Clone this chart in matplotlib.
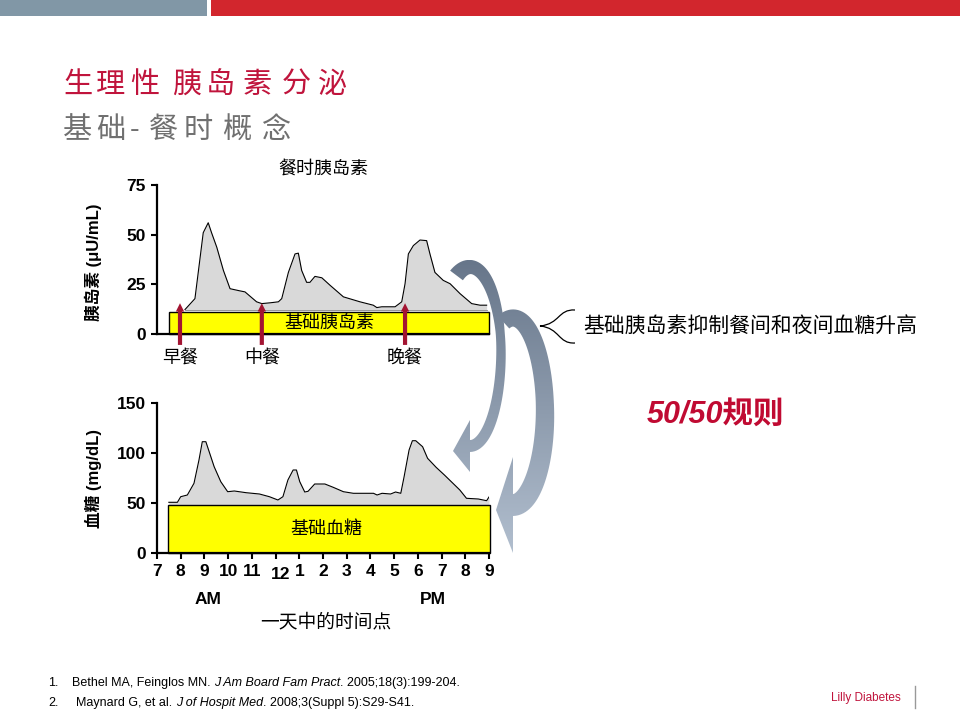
import numpy as np
import matplotlib
matplotlib.use("Agg")
from matplotlib import pyplot as plt
from matplotlib.patches import Rectangle, PathPatch, Polygon
from matplotlib.path import Path
from matplotlib.colors import LinearSegmentedColormap

plt.rcParams['font.family'] = ['Liberation Sans', 'Noto Sans CJK SC']

# --- data ---
insulin_hours = [8.18, 8.6, 8.95, 9.16, 9.3, 9.52, 9.8, 10.08, 10.5, 10.71, 11.2, 11.42,
                 11.77, 12.12, 12.26, 12.54, 12.82, 12.96, 13.1, 13.31, 13.45, 13.66, 13.95,
                 14.3, 14.86, 15.56, 16.12, 16.27, 16.48, 17.04, 17.32, 17.46, 17.6, 17.81,
                 18.09, 18.37, 18.51, 18.72, 19.07, 19.36, 19.78, 20.27, 20.62, 20.9]
insulin_values = [12.3, 17.8, 51, 56, 51, 43.7, 32, 22.8, 21.7, 21.2, 16.2, 15.3,
                  15.7, 16.2, 17.8, 31, 40.3, 40.7, 32, 26, 26, 29, 28.3,
                  24.5, 18.7, 16.2, 14.5, 13.3, 13.7, 13.7, 16.2, 25.3, 40.3, 44.5,
                  47.3, 47, 40.3, 31, 27, 25.3, 20.3, 15.3, 14.5, 14.5]
basal_insulin = 11
insulin_fill_base = 12

glucose_hours = [7.5, 7.86, 8.0, 8.28, 8.56, 8.77, 8.91, 9.06, 9.2, 9.41, 9.69, 9.98, 10.26,
                 10.76, 11.32, 11.74, 12.1, 12.31, 12.52, 12.74, 12.88, 13.02, 13.23, 13.37,
                 13.65, 14.08, 14.43, 14.86, 15.28, 16.13, 16.28, 16.49, 16.85, 17.06, 17.28,
                 17.42, 17.63, 17.77, 17.91, 18.2, 18.41, 18.77, 19.12, 19.48, 19.77, 20.05,
                 20.55, 20.9, 21.0]
glucose_values = [50.7, 50.7, 56.3, 58, 69.7, 93, 111.3, 111.3, 101.3, 86.3, 71.3, 61.3, 62,
                  60.3, 59, 56.3, 53, 56.3, 73, 83, 83, 71.3, 61, 61.7,
                  69, 69, 65.7, 61.3, 59.7, 59.7, 58, 59.7, 59, 61, 59.7,
                  76.3, 103, 112.3, 112.3, 106.3, 94.7, 85.7, 78, 69.7, 63, 54.7,
                  54, 52.3, 56]
basal_glucose = 48

meal_hours = [7.97, 11.42, 17.46]
meal_labels = ['早餐', '中餐', '晚餐']

insulin_ticks = [0, 25, 50, 75]
glucose_ticks = [0, 50, 100, 150]
hour_ticks = list(range(7, 22))
hour_labels = ['7', '8', '9', '10', '11', '12', '1', '2', '3', '4', '5', '6', '7', '8', '9']

W, H = 960, 720
fig = plt.figure(figsize=(9.6, 7.2), dpi=100)


def box(x0, y0, x1, y1):
    return [x0 / W, 1 - y1 / H, (x1 - x0) / W, (y1 - y0) / H]


ax1 = fig.add_axes(box(157, 185, 489, 334))
ax2 = fig.add_axes(box(157, 403, 489, 553))

for ax in (ax1, ax2):
    ax.spines[['top', 'right']].set_visible(False)
    ax.spines[['left', 'bottom']].set_linewidth(1.6)
    ax.set_xlim(7, 21)
    ax.patch.set_visible(False)
    ax.tick_params(width=1.5, length=4, labelsize=12.5, pad=4)

# top chart: insulin
ax1.set_ylim(0, 75)
ax1.set_yticks(insulin_ticks)
ax1.set_xticks([])
ax1.add_patch(Rectangle((7.5, 0), 21 - 7.5, basal_insulin, facecolor='#FFFF00',
                        edgecolor='black', lw=1, clip_on=False, zorder=2))
ax1.fill_between(insulin_hours, insulin_fill_base, insulin_values, color='#D9D9D9', lw=0)
ax1.plot(insulin_hours, insulin_values, color='black', lw=0.8)
ax1.plot([insulin_hours[0], insulin_hours[-1]], [insulin_fill_base] * 2, color='#888888', lw=0.6)
ax1.text(14.25, basal_insulin / 2, '基础胰岛素', ha='center', va='center', fontsize=13, zorder=3)
for h, lab in zip(meal_hours, meal_labels):
    ax1.annotate('', xy=(h, 15.5), xytext=(h, -5.5), annotation_clip=False,
                 arrowprops=dict(arrowstyle='simple,head_width=0.6,head_length=0.6,tail_width=0.3',
                                 color='#A31432', lw=0, shrinkA=0, shrinkB=0), zorder=4)
    ax1.text(h, -12, lab, ha='center', va='center', fontsize=13, clip_on=False)
ax1.set_title('餐时胰岛素', fontsize=13, pad=8)

# bottom chart: glucose
ax2.set_ylim(0, 150)
ax2.set_yticks(glucose_ticks)
ax2.set_xticks(hour_ticks)
shown = [l if l != '12' else '' for l in hour_labels]
ax2.set_xticklabels(shown)
ax2.annotate('12', xy=(12, 0), xycoords=('data', 'axes fraction'), xytext=(3.5, -15.5),
             textcoords='offset points', ha='center', va='center', fontsize=12.5, fontweight='bold')
ax2.add_patch(Rectangle((7.48, 0), 21.05 - 7.48, basal_glucose, facecolor='#FFFF00',
                        edgecolor='black', lw=1, clip_on=False, zorder=2))
ax2.fill_between(glucose_hours, basal_glucose, glucose_values, color='#D9D9D9', lw=0)
ax2.plot(glucose_hours, glucose_values, color='black', lw=0.8)
ax2.text(14.15, basal_glucose / 2, '基础血糖', ha='center', va='center', fontsize=13, zorder=3)

for ax in (ax1, ax2):
    plt.setp(ax.get_yticklabels(), fontweight='bold')
    plt.setp(ax.get_xticklabels(), fontweight='bold')

# --- overlay in pixel coordinates for slide decoration ---
ov = fig.add_axes([0, 0, 1, 1], zorder=5)
ov.set_xlim(0, W)
ov.set_ylim(H, 0)
ov.axis('off')

ov.add_patch(Rectangle((0, 0), 207, 16, color='#8197A6', lw=0))
ov.add_patch(Rectangle((211, 0), W - 211, 16, color='#D2262D', lw=0))

title = '生理性胰岛素分泌'
title_x = [77.5, 110.8, 145, 186.7, 220.8, 256.7, 295.8, 332.5]
for ch, x in zip(title, title_x):
    ov.text(x, 85, ch, ha='center', va='center', fontsize=21, color='#C0143C')
subtitle = '基础-餐时概念'
sub_x = [77.5, 110.8, 135, 163, 198, 236.7, 276.7]
for ch, x in zip(subtitle, sub_x):
    ov.text(x, 130, ch, ha='center', va='center', fontsize=21, color='#707070')

ov.text(93, 262, '胰岛素 (μU/mL)', rotation=90, ha='center', va='center',
        fontsize=12, fontweight='bold')
ov.text(93, 478, '血糖 (mg/dL)', rotation=90, ha='center', va='center',
        fontsize=12, fontweight='bold')
ov.text(208, 600, 'AM', ha='center', va='center', fontsize=12.5, fontweight='bold')
ov.text(433, 600, 'PM', ha='center', va='center', fontsize=12.5, fontweight='bold')
ov.text(326, 623, '一天中的时间点', ha='center', va='center', fontsize=13.5)


def crescent(cx, cy, a, b_top, b_bot, t0, t1, widths, head_hw, head_len, n=80):
    ts = np.linspace(t0, t1, n)
    b = np.where(ts < np.pi / 2, b_top, b_bot)
    x = cx + a * np.sin(ts)
    y = cy - b * np.cos(ts)
    dx = a * np.cos(ts)
    dy = b * np.sin(ts)
    nrm = np.hypot(dx, dy)
    tx, ty = dx / nrm, dy / nrm
    nx_, ny_ = ty, -tx
    w = np.interp(np.linspace(0, 1, n), [0, 0.5, 1], widths) / 2
    outer = np.column_stack([x + nx_ * w, y + ny_ * w])
    inner = np.column_stack([x - nx_ * w, y - ny_ * w])
    ex, ey = x[-1], y[-1]
    head = [(ex + nx_[-1] * head_hw, ey + ny_[-1] * head_hw),
            (ex + tx[-1] * head_len, ey + ty[-1] * head_len + 5),
            (ex - nx_[-1] * head_hw, ey - ny_[-1] * head_hw)]
    return np.vstack([outer, head, inner[::-1]])


cmap = LinearSegmentedColormap.from_list('arr', ['#67768A', '#B3C0D0'])
grad = np.linspace(0, 1, 256).reshape(-1, 1)
arrows = [crescent(470, 352, 31, 85, 94, -0.45, np.pi, [16, 9, 12], 26, 17),
          crescent(513, 413, 32, 95, 92, -0.3, np.pi, [17, 18, 22], 48, 17)]
for pts in arrows:
    poly = Polygon(pts, closed=True, facecolor='none', edgecolor='none')
    ov.add_patch(poly)
    im = ov.imshow(grad, extent=(430, 570, 560, 260), cmap=cmap, aspect='auto',
                   origin='upper', interpolation='bilinear')
    im.set_clip_path(poly)
ov.set_xlim(0, W)
ov.set_ylim(H, 0)

brace = Path([(575, 310), (558, 309), (560, 324), (540, 326),
              (560, 328), (558, 344), (575, 343)],
             [Path.MOVETO, Path.CURVE4, Path.CURVE4, Path.CURVE4,
              Path.CURVE4, Path.CURVE4, Path.CURVE4])
ov.add_patch(PathPatch(brace, facecolor='none', edgecolor='black', lw=0.9))
ov.text(583, 326, '基础胰岛素抑制餐间和夜间血糖升高', ha='left', va='center', fontsize=15)
ov.text(715, 415, '50/50规则', ha='center', va='center', fontsize=22,
        fontweight='bold', style='italic', color='#C00A32')

# footer references
r = fig.canvas.get_renderer()


def seq(x, y, parts):
    for s, style in parts:
        if s == ' ':
            x += 3.5
            continue
        t = ov.text(x, y, s, fontsize=9, style=style, ha='left', va='center')
        x += t.get_window_extent(renderer=r).width


ov.text(48, 683, '1.', fontsize=9, ha='left', va='center')
seq(72, 683, [('Bethel MA, Feinglos MN.', 'normal'), (' ', None),
              ('J Am Board Fam Pract', 'italic'), ('. 2005;18(3):199-204.', 'normal')])
ov.text(48, 703, '2.', fontsize=9, ha='left', va='center')
seq(76, 703, [('Maynard G, et al.', 'normal'), (' ', None),
              ('J of Hospit Med', 'italic'), ('. 2008;3(Suppl 5):S29-S41.', 'normal')])

ov.text(866, 698, 'Lilly Diabetes', fontsize=8.5, ha='center', va='center', color='#C0143C')
ov.plot([915, 915], [686, 708], color='#999999', lw=1)

fig.savefig('out.png', dpi=100)
